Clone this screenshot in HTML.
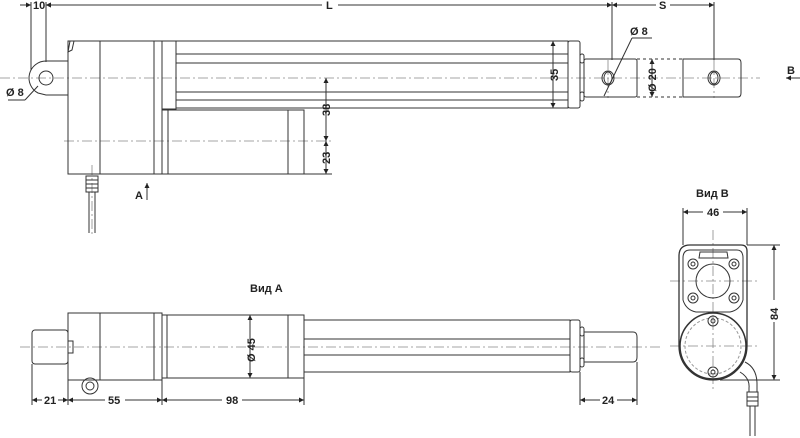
<!DOCTYPE html>
<html><head><meta charset="utf-8"><style>
html,body{margin:0;padding:0;background:#fff;}
svg{display:block;}
text{font-family:"Liberation Sans",sans-serif;font-size:11px;font-weight:bold;fill:#222;}
</style></head><body>
<svg width="800" height="438" viewBox="0 0 800 438" xmlns="http://www.w3.org/2000/svg">
<defs>
<marker id="a" viewBox="0 0 6 6" refX="6" refY="3" markerWidth="5" markerHeight="5" orient="auto-start-reverse"><path d="M0,0L6,3L0,6z" fill="#222"/></marker>
</defs>
<g fill="none" stroke="#333" stroke-width="1">
<g stroke="#888" stroke-dasharray="10,3,2,3" stroke-width="0.8">
<line x1="0" y1="78" x2="760" y2="78"/>
<line x1="64" y1="141" x2="334" y2="141"/>
<line x1="92" y1="165" x2="92" y2="236"/>
<line x1="20" y1="347" x2="660" y2="347"/>
<line x1="670" y1="281" x2="760" y2="281"/>
<line x1="670" y1="346" x2="760" y2="346"/>
<line x1="713" y1="230" x2="713" y2="390"/>
<line x1="608" y1="60" x2="608" y2="98"/>
<line x1="714" y1="60" x2="714" y2="98"/>
</g>
<path d="M68,61 L46,61 A17,17 0 0 0 38,93 L46,95 L68,95"/>
<circle cx="46" cy="78" r="7"/>
<path d="M70,41 L68,52 L72,50 L74,41"/>
<rect x="68" y="41" width="32" height="133"/>
<rect x="100" y="41" width="54" height="133"/>
<rect x="154" y="41" width="8" height="133"/>
<rect x="162" y="41" width="14" height="68"/>
<rect x="176" y="41" width="392" height="67"/>
<rect x="568" y="41" width="12" height="67" rx="2"/>
<line x1="176" y1="54" x2="568" y2="54"/><line x1="176" y1="63" x2="568" y2="63"/>
<line x1="176" y1="92" x2="568" y2="92"/><line x1="176" y1="100" x2="568" y2="100"/>
<rect x="580" y="54" width="4" height="9" rx="2"/><rect x="580" y="92" width="4" height="9" rx="2"/>
<rect x="584" y="59" width="53" height="38" rx="2"/>
<line x1="637" y1="59" x2="683" y2="59" stroke-dasharray="3,3"/>
<line x1="637" y1="97" x2="683" y2="97" stroke-dasharray="3,3"/>
<path d="M683,59 L738,59 Q741,59 741,63 L741,93 Q741,97 738,97 L683,97 Z"/>
<ellipse cx="608" cy="78" rx="6" ry="7"/><ellipse cx="608" cy="78" rx="4" ry="6"/>
<ellipse cx="714" cy="78" rx="6" ry="7"/><ellipse cx="714" cy="78" rx="4" ry="6"/>
<rect x="162" y="110" width="6" height="64"/>
<rect x="168" y="110" width="120" height="64"/>
<rect x="288" y="110" width="16" height="64"/>
<rect x="86" y="176" width="12" height="16"/>
<line x1="86" y1="180" x2="98" y2="180"/><line x1="86" y1="184" x2="98" y2="184"/><line x1="86" y1="188" x2="98" y2="188"/>
<path d="M89,192 L89,233 M95,192 L95,233"/>
<line x1="31" y1="2" x2="31" y2="70"/><line x1="46" y1="2" x2="46" y2="62"/>
<line x1="20" y1="5" x2="31" y2="5" marker-end="url(#a)"/><line x1="60" y1="5" x2="46" y2="5" marker-end="url(#a)"/>
<line x1="46" y1="5" x2="322" y2="5" marker-start="url(#a)"/><line x1="338" y1="5" x2="612" y2="5" marker-end="url(#a)"/>
<line x1="612" y1="2" x2="612" y2="60"/><line x1="714" y1="2" x2="714" y2="60"/>
<line x1="612" y1="5" x2="656" y2="5" marker-start="url(#a)"/><line x1="670" y1="5" x2="714" y2="5" marker-end="url(#a)"/>
<line x1="553" y1="41" x2="553" y2="108" marker-start="url(#a)" marker-end="url(#a)"/>
<line x1="652" y1="59" x2="652" y2="97" marker-start="url(#a)" marker-end="url(#a)"/>
<line x1="326" y1="78" x2="326" y2="141" marker-start="url(#a)" marker-end="url(#a)"/>
<line x1="326" y1="141" x2="326" y2="174" marker-start="url(#a)" marker-end="url(#a)"/>
<line x1="304" y1="174" x2="332" y2="174"/>
<line x1="25" y1="100" x2="38" y2="86"/><line x1="8" y1="100" x2="25" y2="100"/>
<line x1="604" y1="96" x2="632" y2="38"/><line x1="632" y1="38" x2="652" y2="38"/>
<line x1="800" y1="78" x2="786" y2="78" marker-end="url(#a)"/>
<line x1="147" y1="200" x2="147" y2="183" marker-end="url(#a)"/>
<rect x="32" y="330" width="36" height="34" rx="3"/>
<rect x="68" y="313" width="32" height="67"/>
<rect x="100" y="313" width="54" height="67"/>
<rect x="154" y="313" width="8" height="67"/>
<rect x="162" y="315" width="5" height="63"/>
<rect x="167" y="315" width="121" height="63"/>
<rect x="288" y="315" width="16" height="63"/>
<rect x="68" y="341" width="5" height="12"/>
<circle cx="90" cy="386" r="8"/><circle cx="90" cy="386" r="4"/>
<rect x="304" y="320" width="266" height="52"/>
<line x1="304" y1="339" x2="570" y2="339"/><line x1="304" y1="355" x2="570" y2="355"/>
<rect x="570" y="320" width="10" height="52" rx="2"/>
<rect x="580" y="327" width="4" height="9" rx="2"/><rect x="580" y="358" width="4" height="9" rx="2"/>
<path d="M584,332 L633,332 Q637,332 637,337 L637,357 Q637,362 633,362 L584,362 Z"/>
<line x1="32" y1="364" x2="32" y2="405"/><line x1="68" y1="380" x2="68" y2="405"/>
<line x1="162" y1="378" x2="162" y2="405"/><line x1="304" y1="372" x2="304" y2="405"/>
<line x1="580" y1="372" x2="580" y2="405"/><line x1="637" y1="362" x2="637" y2="405"/>
<line x1="32" y1="400" x2="42" y2="400" marker-start="url(#a)"/><line x1="58" y1="400" x2="68" y2="400" marker-end="url(#a)"/>
<line x1="68" y1="400" x2="105" y2="400" marker-start="url(#a)"/><line x1="125" y1="400" x2="162" y2="400" marker-end="url(#a)"/>
<line x1="162" y1="400" x2="222" y2="400" marker-start="url(#a)"/><line x1="242" y1="400" x2="304" y2="400" marker-end="url(#a)"/>
<line x1="580" y1="400" x2="600" y2="400" marker-start="url(#a)"/><line x1="617" y1="400" x2="637" y2="400" marker-end="url(#a)"/>
<line x1="250" y1="315" x2="250" y2="378" marker-start="url(#a)" marker-end="url(#a)"/>
<path d="M690,245 L741,245 Q747,245 747,251 L747,346 A34,34 0 0 1 679,346 L679,256 Q679,245 690,245 Z" stroke-width="1.3"/>
<circle cx="713" cy="346" r="33" stroke-width="1.5"/>
<path d="M690,250 L737,250 Q743,250 743,258 L743,300 Q740,310 730,312 L696,312 Q686,310 683,300 L683,258 Q683,250 690,250 Z"/>
<path d="M700,252 L727,252 L728,258 L699,258 Z"/>
<circle cx="713" cy="281" r="17"/>
<circle cx="693" cy="264" r="5"/><circle cx="693" cy="264" r="2"/>
<circle cx="734" cy="264" r="5"/><circle cx="734" cy="264" r="2"/>
<circle cx="693" cy="298" r="5"/><circle cx="693" cy="298" r="2"/>
<circle cx="734" cy="298" r="5"/><circle cx="734" cy="298" r="2"/>
<circle cx="713" cy="346" r="28" stroke="#999" stroke-dasharray="3,2"/>
<circle cx="713" cy="321" r="5"/><circle cx="713" cy="321" r="2"/>
<circle cx="713" cy="372" r="5"/><circle cx="713" cy="372" r="2"/>
<path d="M745,362 Q757,368 757,384 L757,392 M740,372 Q750,378 749,388 L749,392"/>
<rect x="747" y="392" width="11" height="14"/>
<line x1="747" y1="397" x2="758" y2="397"/><line x1="747" y1="401" x2="758" y2="401"/>
<path d="M750,406 L750,436 M755,406 L755,436"/>
<line x1="683" y1="208" x2="683" y2="245"/><line x1="747" y1="208" x2="747" y2="245"/>
<line x1="683" y1="212" x2="703" y2="212" marker-start="url(#a)"/><line x1="723" y1="212" x2="747" y2="212" marker-end="url(#a)"/>
<line x1="747" y1="245" x2="780" y2="245"/><line x1="720" y1="380" x2="780" y2="380"/>
<line x1="774" y1="245" x2="774" y2="300" marker-start="url(#a)"/><line x1="774" y1="322" x2="774" y2="380" marker-end="url(#a)"/>
</g>
<text x="33" y="9">10</text>
<text x="326" y="9">L</text>
<text x="659" y="9">S</text>
<text x="6" y="96">Ø 8</text>
<text x="630" y="35">Ø 8</text>
<text x="787" y="74" font-size="12">B</text>
<text x="135" y="199" font-size="12">A</text>
<text transform="translate(558,81) rotate(-90)">35</text>
<text transform="translate(656,92) rotate(-90)">Ø 20</text>
<text transform="translate(330,116) rotate(-90)">38</text>
<text transform="translate(330,164) rotate(-90)">23</text>
<text x="250" y="292" font-size="12">Вид A</text>
<text transform="translate(255,362) rotate(-90)">Ø 45</text>
<text x="44" y="404">21</text>
<text x="108" y="404">55</text>
<text x="226" y="404">98</text>
<text x="602" y="404">24</text>
<text x="696" y="197" font-size="12">Вид B</text>
<text x="707" y="216">46</text>
<text transform="translate(778,320) rotate(-90)">84</text>
</svg>
</body></html>
